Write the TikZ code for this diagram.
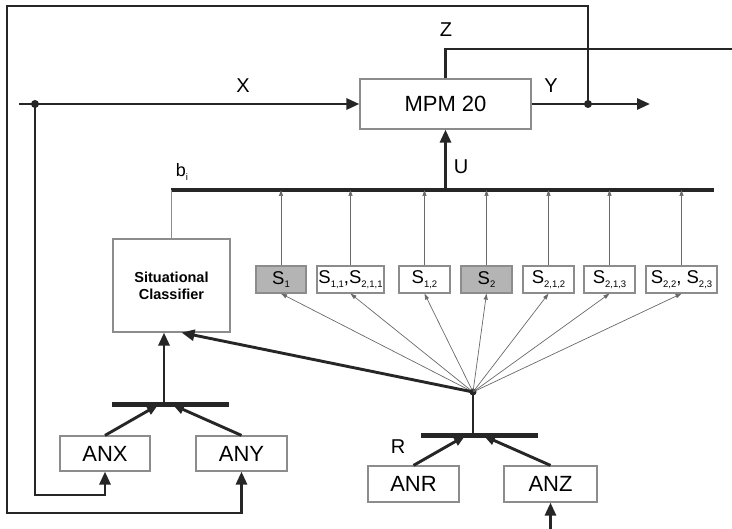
\documentclass[tikz,border=0pt]{standalone}
\usepackage{fontspec}
\setmainfont{Liberation Sans}
\usetikzlibrary{arrows.meta,positioning,calc}
\definecolor{boxgray}{RGB}{140,140,140}
\definecolor{shadegray}{RGB}{180,180,180}
\definecolor{linegray}{RGB}{105,105,105}
\newcommand{\sidx}[1]{\raisebox{-0.4ex}{\fontsize{9.5}{10}\selectfont #1}}

\begin{document}
\begin{tikzpicture}[x=1pt, y=-1pt,
    >={Triangle[length=13pt,width=11pt]},
    block/.style={rectangle, draw=boxgray, line width=1.2pt, fill=white,
      inner sep=0pt, font=\fontsize{22}{24}\selectfont},
    sbox/.style={block, minimum height=27pt, font=\fontsize{18.5}{20}\selectfont},
    shaded/.style={fill=shadegray},
    signal/.style={line width=2.9pt, black!85},
    bus/.style={line width=4.2pt, black!85},
    bar/.style={line width=5pt, black!85},
    fan/.style={line width=0.7pt, linegray, -{Triangle[length=6pt,width=4pt]}},
    lbl/.style={font=\fontsize{20}{22}\selectfont},
    dot/.style={circle, fill=black!85, inner sep=0pt, minimum size=8pt},
  ]
  \useasboundingbox (0,0) rectangle (732,529);

  % Main block
  \node[block, minimum width=171pt, minimum height=50pt] (mpm) at (445.5,104) {MPM 20};
  \node[block, minimum width=117pt, minimum height=93pt, align=center,
    font=\bfseries\fontsize{14.5}{17}\selectfont] (cls) at (171.5,285.5) {Situational\\Classifier};

  % Situation boxes
  \node[sbox, shaded, minimum width=50pt] (s1) at (281,279.5) {S\sidx{1}};
  \node[sbox, minimum width=67pt] (s11) at (350.5,279.5) {S\sidx{1,1},S\sidx{2,1,1}};
  \node[sbox, minimum width=51pt] (s12) at (424.5,279.5) {S\sidx{1,2}};
  \node[sbox, shaded, minimum width=51pt] (s2) at (486.5,279.5) {S\sidx{2}};
  \node[sbox, minimum width=51pt] (s212) at (548.5,279.5) {S\sidx{2,1,2}};
  \node[sbox, minimum width=51pt] (s213) at (609.5,279.5) {S\sidx{2,1,3}};
  \node[sbox, minimum width=71pt] (s22) at (681.5,279.5) {S\sidx{2,2}, S\sidx{2,3}};

  % Analyser boxes
  \node[block, minimum width=90pt, minimum height=35pt] (anx) at (105,453.5) {ANX};
  \node[block, minimum width=91pt, minimum height=35pt] (any) at (241.5,453.5) {ANY};
  \node[block, minimum width=91pt, minimum height=36pt] (anr) at (413.5,484) {ANR};
  \node[block, minimum width=93pt, minimum height=36pt] (anz) at (550.5,484) {ANZ};

  % Points
  \node[dot, minimum size=7pt] (hub) at (473,392) {};
  \node[dot] (xtap) at (35,104) {};
  \node[dot] (ytap) at (588,104) {};
  \coordinate (xin) at (19,104);
  \coordinate (yout) at (650,104);
  \coordinate (zout) at (732,49);
  \coordinate (busL) at (171,190);
  \coordinate (busR) at (714,190);
  \coordinate (loopTL) at (7,6);
  \coordinate (loopBL) at (7,513);
  \coordinate (innerBL) at (35,495);
  \coordinate (cbarL) at (112,405);
  \coordinate (cbarR) at (229,405);
  \coordinate (cbarM) at (164,405);
  \coordinate (cbarA) at (158,405);
  \coordinate (cbarB) at (173,405);
  \coordinate (rbarL) at (421,436);
  \coordinate (rbarR) at (538,436);
  \coordinate (rbarA) at (465,436);
  \coordinate (rbarB) at (484,436);
  \coordinate (anzin) at (550.5,529);

  % Signals around MPM 20
  \draw[signal,->] (xin) -- (mpm.west);
  \draw[signal,->] (mpm.east) -- (yout);
  \draw[signal] (mpm.north) |- (zout);
  \draw[signal,->] (mpm.south |- busL) -- (mpm.south);
  \draw[bus] (busL) -- (busR);
  \draw[line width=0.9pt, boxgray] (cls.north) -- (cls.north |- busL);

  % Feedback loops
  \draw[signal,->] (ytap.center) |- (loopTL) -- (loopBL) -| (any.south);
  \draw[signal,->] (xtap.center) -- (innerBL) -| (anx.south);

  % Situations to bus and fan from hub
  \foreach \s in {s1,s11,s12,s2,s212,s213,s22} {
    \draw[fan] (\s.north) -- (\s.north |- busL);
    \draw[fan] (hub.center) -- (\s.south);
  }

  % Classifier inputs
  \draw[bar] (cbarL) -- (cbarR);
  \draw[signal,->] (cbarM) -- (cbarM |- cls.south);
  \draw[signal,->] (hub.center) -- ([xshift=10pt]cls.south);
  \draw[signal,-{Triangle[length=11pt,width=9pt]}] (anx.north) -- (cbarA);
  \draw[signal,-{Triangle[length=11pt,width=9pt]}] (any.north) -- (cbarB);

  % R inputs
  \draw[bar] (rbarL) -- (rbarR);
  \draw[signal] (hub.center) -- (hub |- rbarL);
  \draw[signal,-{Triangle[length=11pt,width=9pt]}] (anr.north) -- (rbarA);
  \draw[signal,-{Triangle[length=11pt,width=9pt]}] (anz.north) -- (rbarB);
  \draw[signal,->] (anzin) -- (anz.south);

  % Labels
  \node[lbl] (xlbl) at (243,86) {X};
  \node[lbl] (ylbl) at (551,86) {Y};
  \node[lbl] (zlbl) at (446,30) {Z};
  \node[lbl] (ulbl) at (461,167) {U};
  \node[lbl] (rlbl) at (398,447) {R};
  \node[lbl, font=\fontsize{18}{20}\selectfont] (blbl) at (182,172) {b\sidx{i}};
\end{tikzpicture}
\end{document}
